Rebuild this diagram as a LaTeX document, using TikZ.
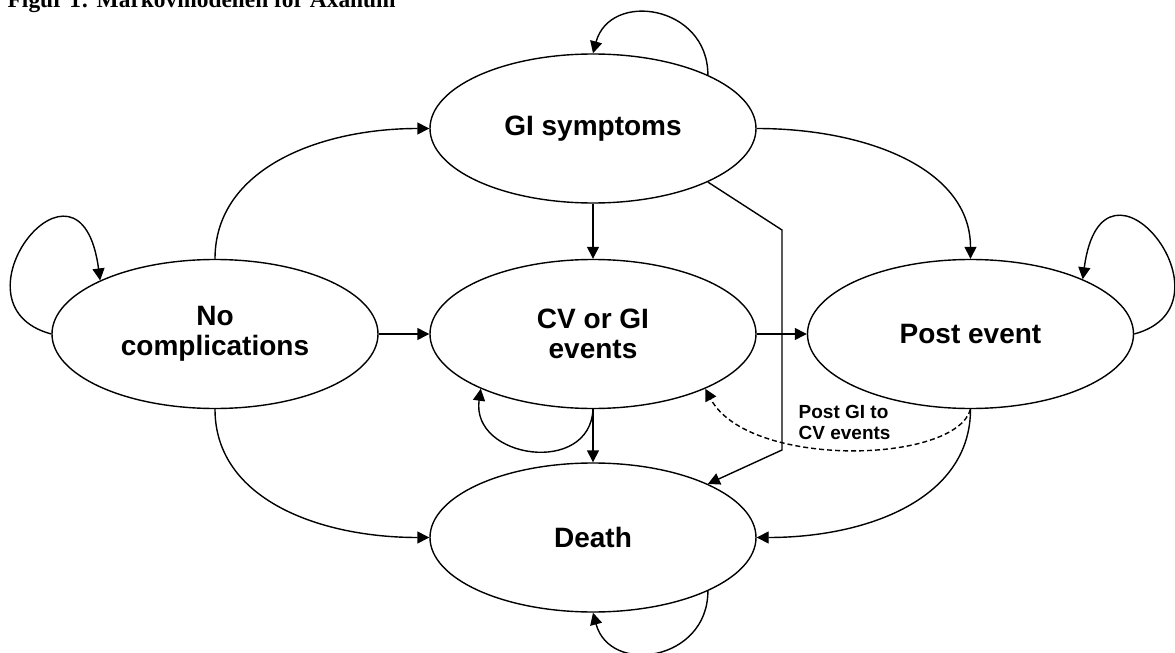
\documentclass[tikz,border=0pt]{standalone}
\usepackage{fontspec}
\setmainfont{Liberation Sans}
\newfontfamily\titlefont{Liberation Serif}
\usetikzlibrary{shapes.geometric,arrows.meta}
\tikzset{markov/.style={x=0.5pt,y=-0.5pt,line width=0.7pt,>={Triangle[length=6pt,width=6pt]}},
  mstate/.style={draw,ellipse,inner sep=0pt,minimum width=163pt,minimum height=74.5pt,
    align=center,font=\bfseries\fontsize{14}{15}\selectfont},
  dasharr/.style={->,dash pattern=on 2.5pt off 1.5pt}}

\begin{document}
\begin{tikzpicture}[markov]
    \useasboundingbox (0,0) rectangle (1175,653);
    \clip (0,0) rectangle (1175,653);
    \node[anchor=base west,inner sep=0pt,font=\titlefont\bfseries\fontsize{11.7}{14}\selectfont] (title) at (7,8) {Figur 1: Markovmodellen for Axanum};
    \node[mstate] (gi)     at (593,128.5) {GI symptoms};
    \node[mstate] (nocomp) at (215,334)   {No\\complications};
    \node[mstate] (cv)     at (593,334)   {CV or GI\\events};
    \node[mstate] (post)   at (970.5,334) {Post event};
    \node[mstate] (death)  at (593,537.5) {Death};
    \node[anchor=north west,align=left,inner sep=0pt,font=\bfseries\fontsize{9.5}{10.5}\selectfont] (postgi) at (798,405) {Post GI to\\CV events};
    \coordinate (k1) at (782,230);
    \coordinate (k2) at (782,450);
    % straight transitions
    \draw[->] (nocomp) -- (cv);
    \draw[->] (gi) -- (cv);
    \draw[->] (cv) -- (post);
    \draw[->] (cv) -- (death);
    \draw[->] (gi.-25) -- (k1) -- (k2) -- (death.25);
    % curved transitions
    \draw[->] (nocomp.north) .. controls +(0,-90) and +(-110,0) .. (gi.west);
    \draw[->] (gi.east) .. controls +(110,0) and +(0,-90) .. (post.north);
    \draw[->] (nocomp.south) .. controls +(0,90) and +(-110,0) .. (death.west);
    \draw[->] (post.south) .. controls +(0,90) and +(110,0) .. (death.east);
    \draw[dasharr] (post.south) .. controls +(-15,55) and +(43,80) .. (cv.-26);
    % loops
    \draw[->] (nocomp.west) .. controls +(-108,-29) and +(-20,-150) .. (nocomp.155);
    \draw[->] (post.east) .. controls +(108,-29) and +(20,-150) .. (post.26);
    \draw[->] (gi.25) .. controls +(0,-70) and +(17,-63) .. (gi.north);
    \draw[->] (death.-25) .. controls +(0,70) and +(17,63) .. (death.south);
    \draw[->] (cv.south) .. controls +(-3,67) and +(-10,70) .. (cv.206);
\end{tikzpicture}
\end{document}
